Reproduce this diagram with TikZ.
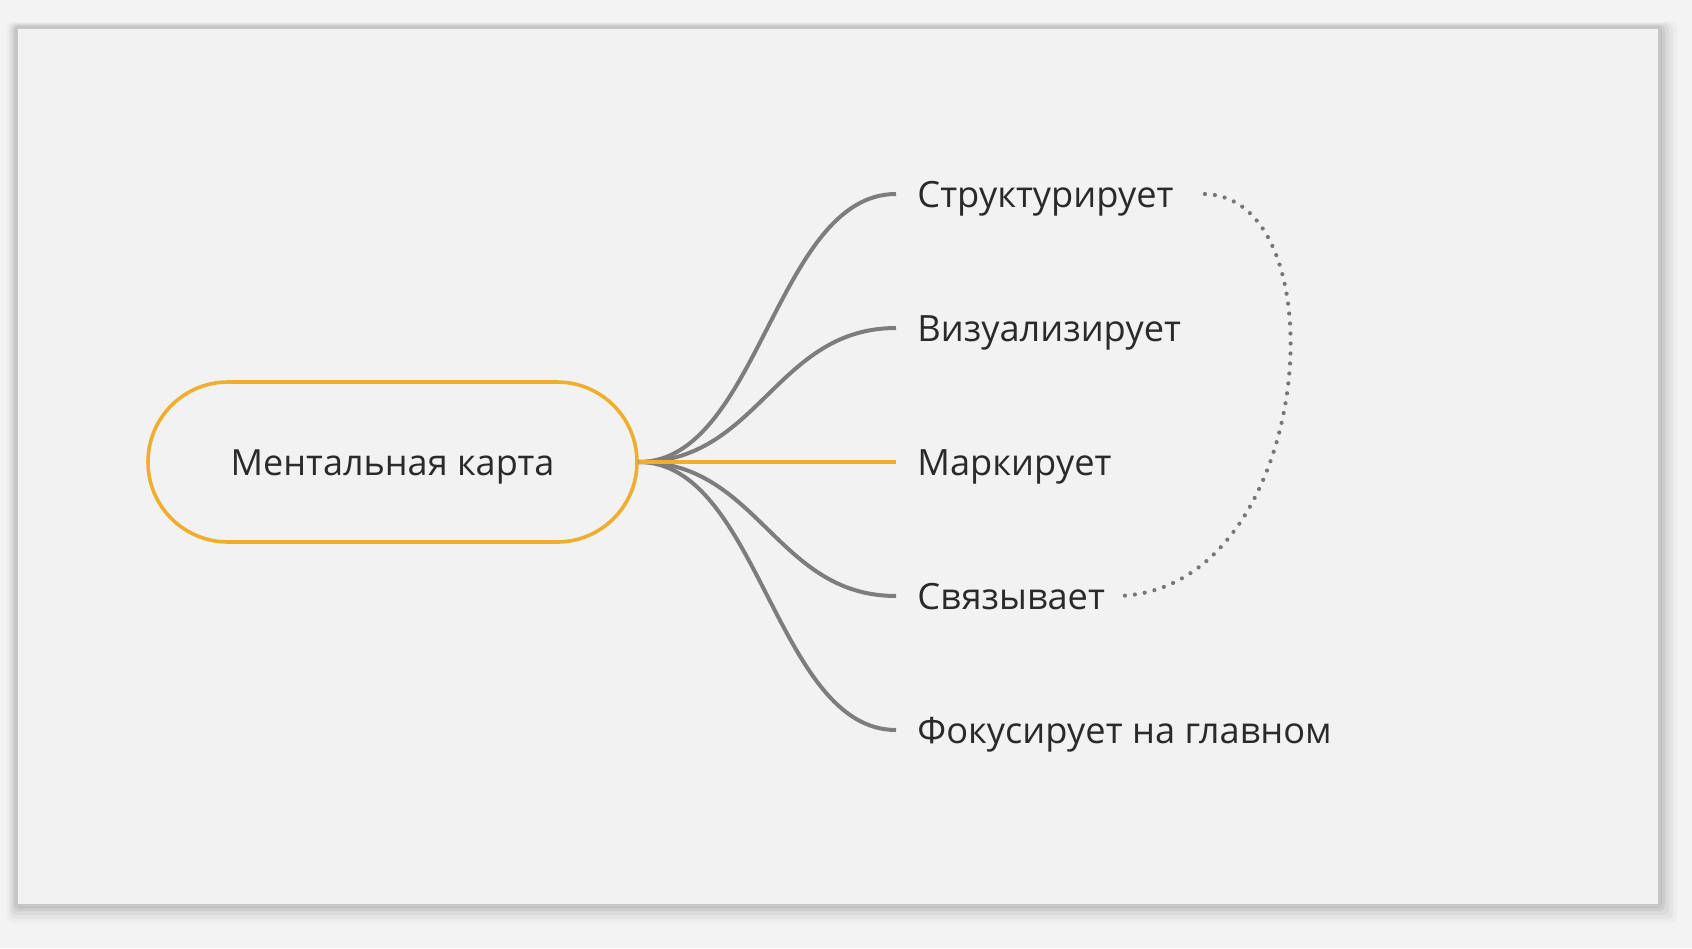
\documentclass[tikz,border=0pt]{standalone}
\usepackage{fontspec}
\setmainfont{Open Sans}
\definecolor{bgc}{HTML}{F3F3F3}
\definecolor{framefill}{HTML}{F2F2F2}
\definecolor{frameline}{HTML}{C6C6C6}
\definecolor{orangec}{HTML}{EFAE2F}
\definecolor{branchc}{HTML}{7D7D7D}
\definecolor{textc}{HTML}{2A2A2A}
\definecolor{dotc}{HTML}{777777}
\tikzset{
  rootnode/.style={draw=orangec, line width=1.8pt, rounded corners=40pt,
    minimum width=244.5pt, minimum height=80pt, inner sep=0pt,
    text height=13pt, text depth=0pt,
    font=\fontsize{18pt}{22pt}\selectfont, text=textc},
  leaf/.style={anchor=west, inner xsep=10.5pt, inner ysep=0pt,
    text height=13pt, text depth=0pt,
    font=\fontsize{18.1pt}{22pt}\selectfont, text=textc},
  branch/.style={draw=branchc, line width=2pt},
  mainbranch/.style={draw=orangec, line width=2pt},
  relation/.style={draw=dotc, line width=2.1pt, line cap=round, dash pattern=on 0pt off 5pt},
}
\begin{document}
\begin{tikzpicture}[x=0.5pt,y=-0.5pt]
\useasboundingbox (0,0) rectangle (1692,948);
\fill[bgc] (0,0) rectangle (1692,948);
% soft shadow of the frame
\foreach \d/\o in {18/0.025,14/0.035,10/0.045,6/0.06,3/0.08}{
  \fill[black,opacity=\o,rounded corners=3pt] (16-\d*0.5,27-\d*0.3) rectangle (1659+\d,905+\d);
}
\fill[framefill] (16,27) rectangle (1659,905);
\draw[frameline,line width=1.5pt] (16,27) rectangle (1659,905);

\node[rootnode] (root) at (392.5,462) {Ментальная карта};

\node[leaf] (s1) at (896,194) {Структурирует};
\node[leaf] (s2) at (896,328) {Визуализирует};
\node[leaf] (s3) at (896,462) {Маркирует};
\node[leaf] (s4) at (896,596) {Связывает};
\node[leaf] (s5) at (896,730) {Фокусирует на главном};

\draw[branch] (root.east) .. controls +(120,0) and +(-120,0) .. (s1.west);
\draw[branch] (root.east) .. controls +(120,0) and +(-120,0) .. (s2.west);
\draw[branch] (root.east) .. controls +(120,0) and +(-120,0) .. (s4.west);
\draw[branch] (root.east) .. controls +(120,0) and +(-120,0) .. (s5.west);
\draw[mainbranch] (root.east) -- (s3.west);

\draw[relation] ([xshift=5pt]s1.east) .. controls +(138,4) and +(196,-6) .. ([xshift=-4pt]s4.east);
\end{tikzpicture}
\end{document}
